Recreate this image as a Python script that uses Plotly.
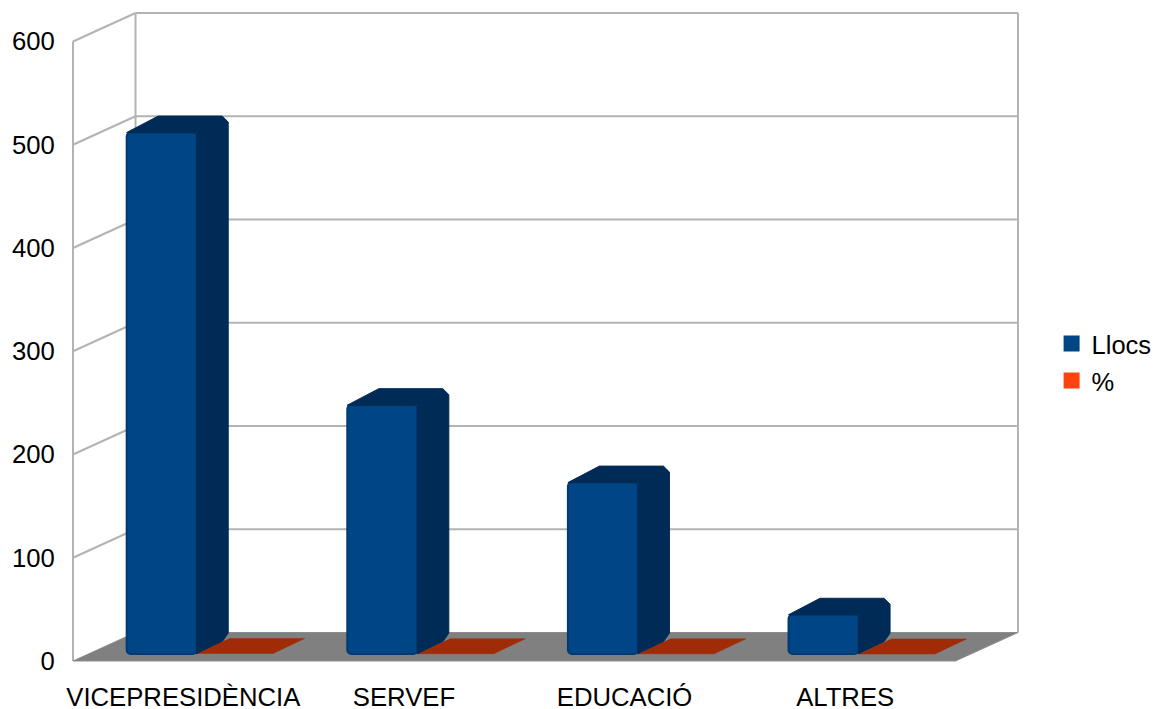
import plotly.graph_objects as go

# ---- data ----
categories = ["VICEPRESIDÈNCIA", "SERVEF", "EDUCACIÓ", "ALTRES"]
llocs = [505, 241, 166, 38]
pct = [0.53, 0.25, 0.17, 0.04]
y_ticks = [0, 100, 200, 300, 400, 500, 600]

# ---- geometry of the pseudo-3D box (axis units) ----
PX_X = 220.5          # pixels per category
PX_Y = 620 / 600      # pixels per value unit
DEPTH_X = 62.5 / PX_X
DEPTH_Y = 28.5 / PX_Y
BAR_W = 70 / PX_X
POS_A = 0.402
POS_B = 0.737
BASE = 7 / PX_Y
BAR_DX = 31.5 / PX_X
BAR_DY = 15 / PX_Y
TOP_EXTRA = 1.5 / PX_Y
CX = 6 / PX_X
CY = 6 / PX_Y
Y_TOP = 600

GRID = "#b3b3b3"
FONT = "Liberation Sans, Arial, sans-serif"

n = len(categories)
shapes = []


def seg(x0, y0, x1, y1):
    shapes.append(dict(type="line", xref="x", yref="y", x0=x0, y0=y0, x1=x1, y1=y1,
                       line=dict(color=GRID, width=2), layer="below"))


for t in y_ticks[1:]:
    seg(0, t, DEPTH_X, t + DEPTH_Y)
    seg(DEPTH_X, t + DEPTH_Y, n + DEPTH_X, t + DEPTH_Y)
seg(0, 0, 0, Y_TOP)
seg(DEPTH_X, 0 + DEPTH_Y, DEPTH_X, Y_TOP + DEPTH_Y)
seg(n + DEPTH_X, DEPTH_Y, n + DEPTH_X, Y_TOP + DEPTH_Y)
shapes.append(dict(
    type="path", xref="x", yref="y", layer="below",
    path=f"M0,0 L{DEPTH_X},{DEPTH_Y} L{n + DEPTH_X},{DEPTH_Y} L{n},0 Z",
    fillcolor="#808080", line=dict(color="#8c8c8c", width=1)))

fig = go.Figure()

# front faces of the bars
fig.add_trace(go.Bar(
    x=[i + POS_A for i in range(n)], y=llocs, base=BASE, width=BAR_W, name="Llocs",
    showlegend=False, hoverinfo="skip",
    marker=dict(color="#004586", line=dict(color="#003a70", width=2), cornerradius=4)))

# top + side faces of the blue bars
for i, v in enumerate(llocs):
    x0 = i + POS_A - BAR_W / 2
    x1 = i + POS_A + BAR_W / 2
    top = BASE + v
    back = top + BAR_DY + TOP_EXTRA
    xs = [x0, x0 + BAR_DX, x1 + BAR_DX - CX, x1 + BAR_DX, x1 + BAR_DX,
          x1 + BAR_DX - CX, x1, x1, x0]
    ys = [top, back, back, back - CY, BASE + BAR_DY + CY,
          BASE + BAR_DY - CY * 0.45, BASE, top, top]
    fig.add_trace(go.Scatter(x=xs, y=ys, mode="lines", fill="toself", fillcolor="#002b57",
                             line=dict(color="#002b57", width=1), showlegend=False,
                             hoverinfo="skip"))

# the nearly flat % bars
for i, v in enumerate(pct):
    x0 = i + POS_B - 75 / PX_X / 2
    x1 = i + POS_B + 75 / PX_X / 2
    top = BASE + v
    fig.add_trace(go.Scatter(x=[x0, x0 + BAR_DX, x1 + BAR_DX, x1, x0],
                             y=[top, top + BAR_DY, top + BAR_DY, top, top],
                             mode="lines", fill="toself", fillcolor="#a02b07",
                             line=dict(color="#a02b07", width=0.5), showlegend=False,
                             hoverinfo="skip"))

# legend entries
for name, col, lg in (("Llocs", "#004586", "legend"), ("%", "#ff420e", "legend2")):
    fig.add_trace(go.Scatter(x=[None], y=[None], mode="markers", name=name, legend=lg,
                             marker=dict(symbol="square", size=16, color=col)))

PAD_X = 3 / PX_X
PAD_Y = 3 / PX_Y
LEG = dict(xref="container", yref="container", x=0.9148, xanchor="left", yanchor="middle",
           itemwidth=30, indentation=-5, font=dict(family=FONT, size=25.5),
           bgcolor="rgba(0,0,0,0)")
fig.update_layout(
    width=1155, height=709, autosize=False,
    margin=dict(l=70, r=134, t=10, b=45, pad=0),
    paper_bgcolor="white", plot_bgcolor="white",
    font=dict(family=FONT, size=25.7, color="black"),
    barmode="overlay", shapes=shapes,
    xaxis=dict(range=[-PAD_X, n + DEPTH_X + PAD_X], tickmode="array", automargin=False,
               tickvals=[i + 0.5 for i in range(n)], ticktext=categories,
               showgrid=False, zeroline=False, showline=False,
               ticks="outside", ticklen=10, tickcolor="rgba(0,0,0,0)", tickangle=0),
    yaxis=dict(range=[-PAD_Y, Y_TOP + DEPTH_Y + PAD_Y], tickmode="array", tickvals=y_ticks,
               automargin=False, showgrid=False, zeroline=False, showline=False,
               ticks="outside", ticklen=9, tickcolor="rgba(0,0,0,0)"),
    legend=dict(LEG, y=0.5148),
    legend2=dict(LEG, y=0.4626),
)

fig.write_html("out.html", config={"displayModeBar": False},
               post_script="document.body.style.margin='0';")
